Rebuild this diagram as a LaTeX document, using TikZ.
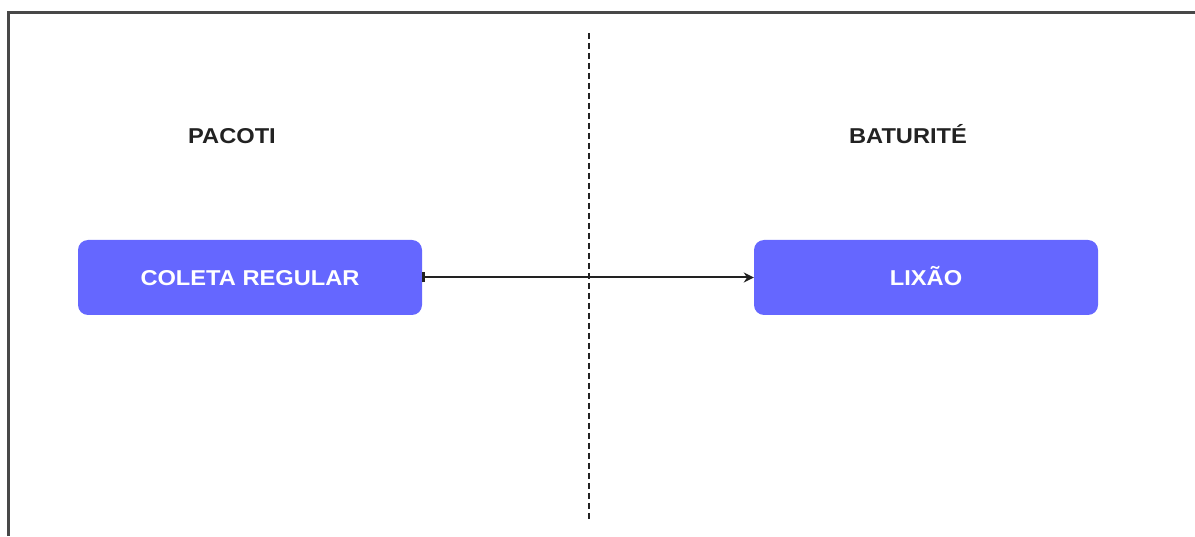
\documentclass[tikz,border=0pt]{standalone}
\usepackage{fontspec}
\setmainfont{Liberation Sans}
\newfontfamily\labelfont{Liberation Sans}[FakeStretch=1.1]
\usetikzlibrary{arrows.meta}
\definecolor{boxblue}{RGB}{101,103,255}
\definecolor{inkdark}{RGB}{34,34,34}
\definecolor{framegray}{RGB}{72,72,72}
\tikzset{
  stagebox/.style={rectangle, rounded corners=10pt, fill=boxblue, draw=none,
    minimum width=344pt, minimum height=75pt, inner sep=0pt,
    text height=15.5pt, text depth=0pt,
    text=white, font=\labelfont\bfseries\fontsize{21.5}{24}\selectfont},
  heading/.style={inner sep=0pt, text=inkdark, anchor=base,
    font=\labelfont\bfseries\fontsize{21.5}{24}\selectfont},
  flow/.style={line width=2pt, draw=inkdark,
    {Bar[width=10pt,line width=3pt]}-{Stealth[length=10pt,width=10pt]}},
  divider/.style={line width=1.8pt, draw=inkdark, dash pattern=on 6pt off 4pt},
  frame/.style={line width=3pt, draw=framegray}
}
\begin{document}
\begin{tikzpicture}[x=1pt,y=1pt]
  \useasboundingbox (0,0) rectangle (1195,536);
  % outer frame (top and left edges)
  \draw[frame] (8,0) -- (8,523) -- (1195,523);
  % boundary between the two municipalities
  \draw[divider] (589,503) -- (589,16);
  % municipality names
  \node[heading] (pacoti) at (232,392.5) {PACOTI};
  \node[heading] (baturite) at (908,392.5) {BATURITÉ};
  % stages of the waste flow
  \node[stagebox] (coleta) at (250,258.5) {COLETA REGULAR};
  \node[stagebox] (lixao) at (926,258.5) {LIXÃO};
  \draw[flow] (coleta.east) -- (lixao.west);
\end{tikzpicture}
\end{document}
